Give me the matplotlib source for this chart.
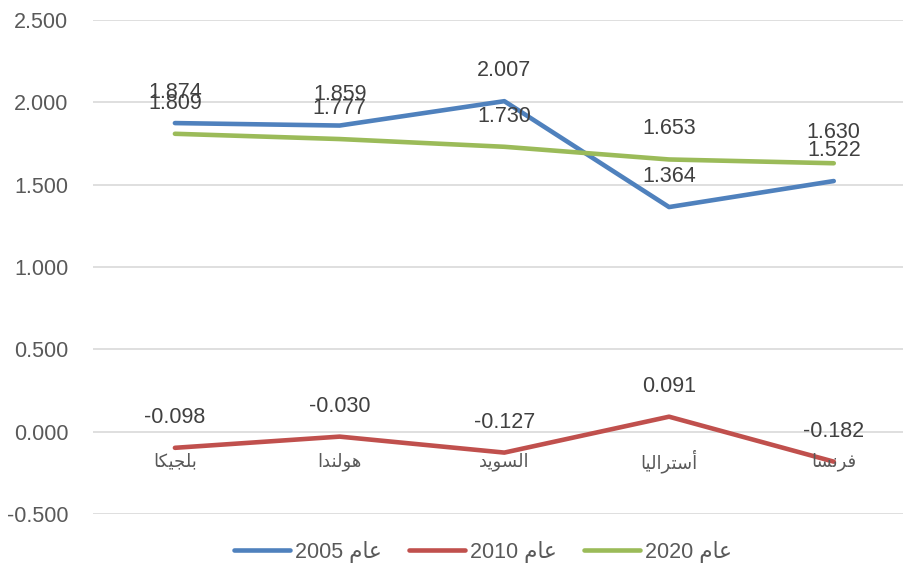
import matplotlib.pyplot as plt
from matplotlib.lines import Line2D

categories = ["بلجيكا", "هولندا", "السويد", "أستراليا", "فرنسا"]
series_names = ["عام 2005", "عام 2010", "عام 2020"]
values_2005 = [1.874, 1.859, 2.007, 1.364, 1.522]
values_2010 = [-0.098, -0.030, -0.127, 0.091, -0.182]
values_2020 = [1.809, 1.777, 1.730, 1.653, 1.630]
y_ticks = [-0.5, 0.0, 0.5, 1.0, 1.5, 2.0, 2.5]

colors = ["#4F81BD", "#C0504D", "#9BBB59"]

# minimal arabic shaping (matplotlib has no bidi / joining support)
FORMS = {
    "ا": ("\ufe8d", "\ufe8e", None, None),
    "أ": ("\ufe83", "\ufe84", None, None),
    "ب": ("\ufe8f", "\ufe90", "\ufe91", "\ufe92"),
    "ت": ("\ufe95", "\ufe96", "\ufe97", "\ufe98"),
    "ج": ("\ufe9d", "\ufe9e", "\ufe9f", "\ufea0"),
    "د": ("\ufea9", "\ufeaa", None, None),
    "ر": ("\ufead", "\ufeae", None, None),
    "س": ("\ufeb1", "\ufeb2", "\ufeb3", "\ufeb4"),
    "ع": ("\ufec9", "\ufeca", "\ufecb", "\ufecc"),
    "ف": ("\ufed1", "\ufed2", "\ufed3", "\ufed4"),
    "ك": ("\ufed9", "\ufeda", "\ufedb", "\ufedc"),
    "ل": ("\ufedd", "\ufede", "\ufedf", "\ufee0"),
    "م": ("\ufee1", "\ufee2", "\ufee3", "\ufee4"),
    "ن": ("\ufee5", "\ufee6", "\ufee7", "\ufee8"),
    "ه": ("\ufee9", "\ufeea", "\ufeeb", "\ufeec"),
    "و": ("\ufeed", "\ufeee", None, None),
    "ي": ("\ufef1", "\ufef2", "\ufef3", "\ufef4"),
}


def shape_word(word: str) -> str:
    out = []
    for i, ch in enumerate(word):
        if ch not in FORMS:
            out.append(ch)
            continue
        prev = word[i - 1] if i > 0 else None
        nxt = word[i + 1] if i + 1 < len(word) else None
        join_prev = prev in FORMS and FORMS[prev][2] is not None
        join_next = nxt in FORMS and FORMS[ch][2] is not None
        iso, fin, ini, med = FORMS[ch]
        if join_prev and join_next:
            out.append(med)
        elif join_prev:
            out.append(fin)
        elif join_next:
            out.append(ini)
        else:
            out.append(iso)
    return "".join(reversed(out))


def visual(text: str) -> str:
    # words in rtl order; digit runs stay ltr
    return " ".join(shape_word(w) if any(c in FORMS for c in w) else w
                    for w in reversed(text.split(" ")))


plt.rcParams["font.family"] = ["Liberation Sans", "DejaVu Sans"]

fig = plt.figure(figsize=(9.04, 5.63), dpi=100)
ax = fig.add_axes([0.1024, 0.087, 0.911, 0.8775])

x = list(range(len(categories)))
all_series = [values_2005, values_2010, values_2020]
for vals, color in zip(all_series, colors):
    ax.plot(x, vals, color=color, linewidth=3.3, solid_capstyle="round", zorder=3)
    for xi, v in zip(x, vals):
        ax.annotate(f"{v:.3f}", (xi, v), xytext=(0, 22), textcoords="offset points",
                    ha="center", va="center", fontsize=15.5, color="#404040", zorder=4)

for xi, cat in zip(x, categories):
    ax.annotate(visual(cat), (xi, 0), xytext=(0, -21.5), textcoords="offset points",
                ha="center", va="center", fontsize=13, color="#595959",
                family=["DejaVu Sans"])

ax.set_xlim(-0.5, len(categories) - 0.5)
ax.set_ylim(y_ticks[0], y_ticks[-1])
ax.set_yticks(y_ticks)
ax.set_yticklabels([f"{t:.3f}" for t in y_ticks], fontsize=15.5, color="#595959")
ax.set_xticks([])
ax.tick_params(axis="y", length=0, pad=17.5)
ax.grid(axis="y", color="#D9D9D9", linewidth=1.2)
ax.set_axisbelow(True)
for spine in ax.spines.values():
    spine.set_visible(False)

handles = [Line2D([0], [0], color=c, linewidth=3.3, solid_capstyle="round") for c in colors]
fig.legend(handles, [visual(n) for n in series_names], loc="center",
           bbox_to_anchor=(483 / 904, 0.0195), ncol=3, frameon=False,
           handlelength=2.6, handletextpad=0.2, columnspacing=1.3,
           labelcolor="#595959", prop={"family": ["Liberation Sans", "DejaVu Sans"], "size": 15.5})

fig.savefig("out.png", dpi=100)
